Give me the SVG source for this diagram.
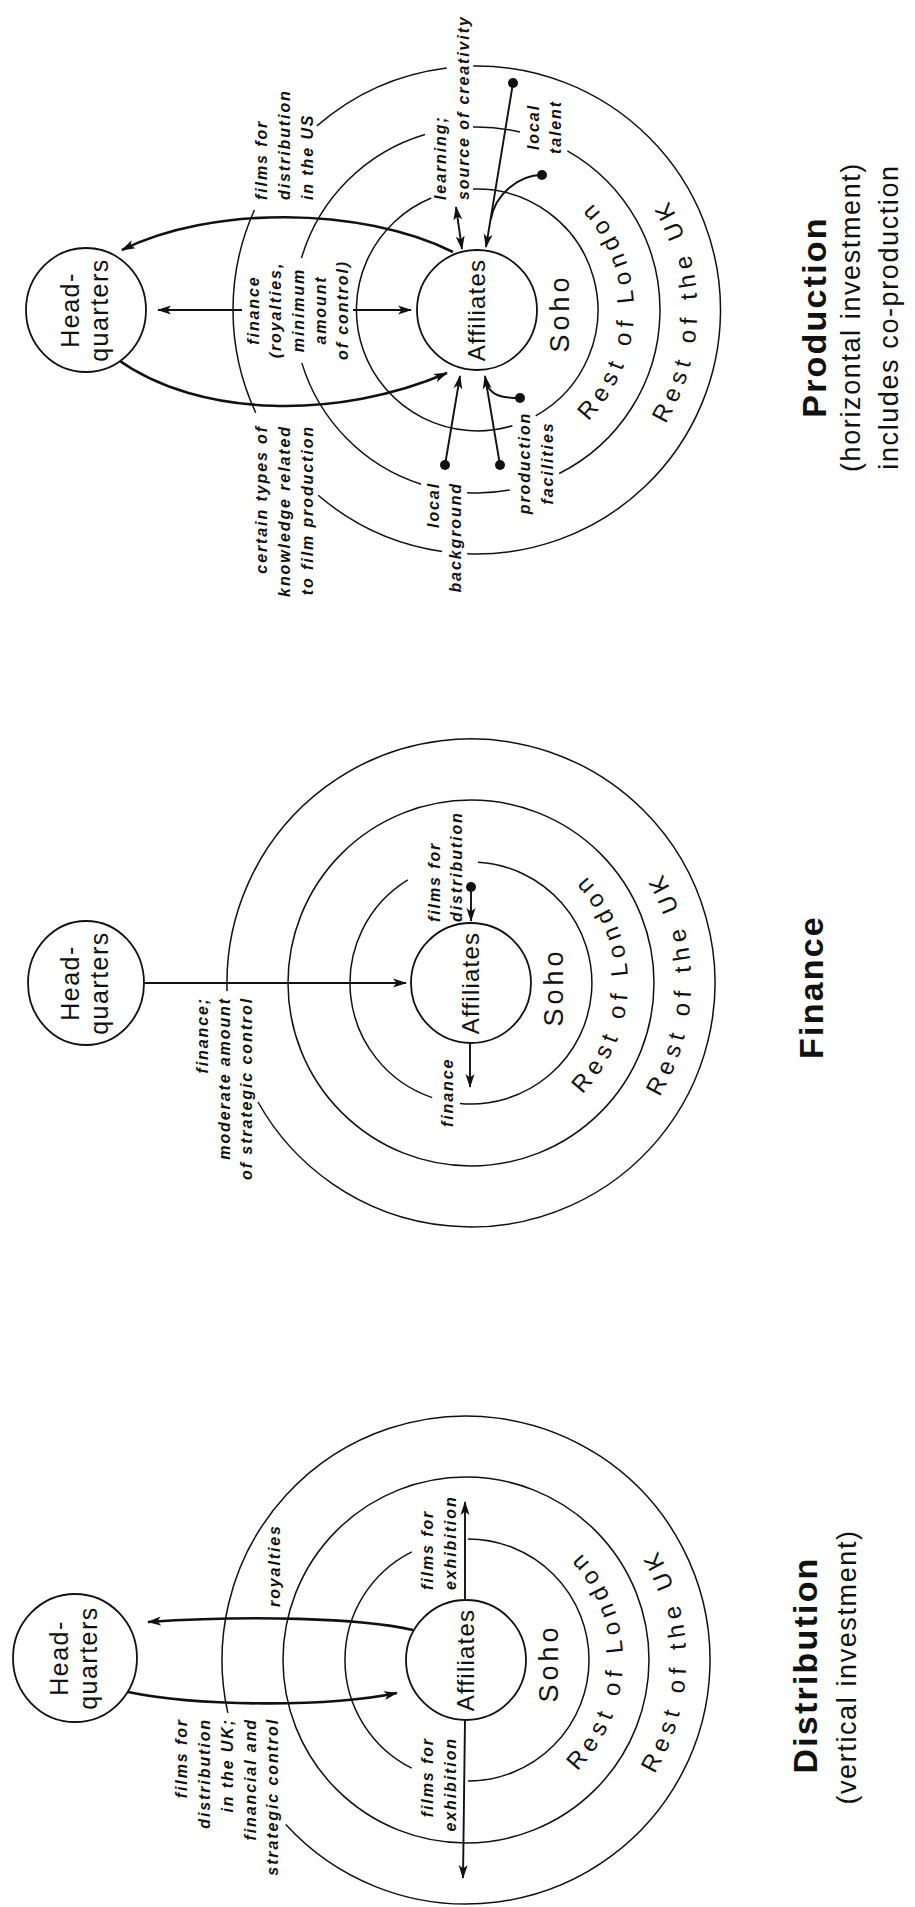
<svg xmlns="http://www.w3.org/2000/svg" width="915" height="1907" viewBox="0 0 915 1907">
<defs>
  <marker id="ah" viewBox="0 0 14 10" refX="13" refY="5" markerWidth="14" markerHeight="10" markerUnits="userSpaceOnUse" orient="auto-start-reverse">
    <path d="M0,0.5 L14,5 L0,9.5 L3.5,5 Z" fill="#111"/>
  </marker>
  <path id="pLon" d="M1442.4,504.3 A157,157 0 0 0 1751.6,504.3"/>
  <path id="pUK" d="M1380.3,515.2 A220,220 0 0 0 1813.7,515.2"/>
  <path id="fLon" d="M769.4,498.3 A157,157 0 0 0 1078.6,498.3"/>
  <path id="fUK" d="M707.3,509.2 A220,220 0 0 0 1140.7,509.2"/>
  <path id="dLon" d="M92.4,493.3 A157,157 0 0 0 401.6,493.3"/>
  <path id="dUK" d="M30.3,504.2 A220,220 0 0 0 463.7,504.2"/>
</defs>
<style>
  text { font-family: "Liberation Sans", Arial, sans-serif; fill: #111; }
  .ring { fill: none; stroke: #111; stroke-width: 1.5; }
  .node { fill: #fff; stroke: #111; stroke-width: 1.8; }
  .con { fill: none; stroke: #111; stroke-width: 1.9; }
  .thick { stroke-width: 2.6; }
  .dot { fill: #111; }
  .lbl { font-size: 16px; font-weight: bold; font-style: italic; letter-spacing: 1.9px; }
  .mid { text-anchor: middle; }
  .end { text-anchor: end; }
  .nt { font-size: 25px; letter-spacing: 1.5px; text-anchor: middle; }
  .aff { font-size: 24px; letter-spacing: 1.2px; text-anchor: middle; }
  .zone { font-size: 24px; letter-spacing: 6px; text-anchor: middle; }
  .soho { font-size: 27px; letter-spacing: 4px; text-anchor: middle; }
  .title { font-size: 34px; font-weight: bold; letter-spacing: 2.2px; text-anchor: middle; }
  .sub { font-size: 27px; letter-spacing: 1.6px; text-anchor: middle; }
</style>
<rect x="0" y="0" width="915" height="1907" fill="#fff"/>
<g transform="translate(0,1907) rotate(-90)">

  <!-- ===== Zones (rings) ===== -->
  <g id="zones-production">
    <path class="ring" d="M1355.5,442.2 A244,244 0 0 1 1411.7,318.2 M1494.3,255.7 A244,244 0 0 1 1697,254.4 M1781.1,316.9 A244,244 0 0 1 1839.1,446.8 M1841,473.2 A244,244 0 1 1 1353.2,467.2"/>
    <path class="ring" d="M1416.9,509.7 A183,183 0 0 1 1414.3,467.1 M1422.8,421.1 A183,183 0 0 1 1544.1,301.8 M1649,301.5 A183,183 0 0 1 1772.5,425 M1780,473 A183,183 0 0 1 1774.9,520 M1756.1,567.4 A183,183 0 0 1 1433.5,559.2"/>
    <path class="ring" d="M1717.9,473 A121,121 0 0 1 1491.2,535.7 M1481.3,512.4 A121,121 0 0 1 1709,431.3"/>
    <text class="soho" x="1594" y="569">Soho</text>
    <text class="zone"><textPath href="#pLon" startOffset="50%">Rest of London</textPath></text>
    <text class="zone"><textPath href="#pUK" startOffset="50%">Rest of the UK</textPath></text>
  </g>
  <g id="zones-finance">
    <path class="ring" d="M915.9,227.1 A244,244 0 1 1 805,258"/>
    <circle class="ring" cx="924" cy="471" r="183"/>
    <path class="ring" d="M1044.8,478 A121,121 0 1 1 803.5,460 M809.4,432.2 A121,121 0 0 1 1027.2,407.8"/>
    <text class="soho" x="920" y="563">Soho</text>
    <text class="zone"><textPath href="#fLon" startOffset="50%">Rest of London</textPath></text>
    <text class="zone"><textPath href="#fUK" startOffset="50%">Rest of the UK</textPath></text>
  </g>
  <g id="zones-distribution">
    <path class="ring" d="M194.2,227.8 A244,244 0 1 1 82.5,285.8"/>
    <circle class="ring" cx="247" cy="466" r="183"/>
    <path class="ring" d="M368,467.9 A121,121 0 0 1 126,468 M138.8,411.8 A121,121 0 0 1 355.2,411.8"/>
    <text class="soho" x="244" y="558">Soho</text>
    <text class="zone"><textPath href="#dLon" startOffset="50%">Rest of London</textPath></text>
    <text class="zone"><textPath href="#dUK" startOffset="50%">Rest of the UK</textPath></text>
  </g>

  <!-- ===== Connectors ===== -->
  <g id="connectors">
    <!-- production -->
    <path class="con" d="M1597,242 L1597,158" marker-end="url(#ah)"/>
    <path class="con" d="M1597,353 L1597,411" marker-end="url(#ah)"/>
    <path class="con thick" d="M1655,453 C1701,360 1701,210 1657,122" marker-end="url(#ah)"/>
    <path class="con thick" d="M1548,117 C1488,200 1488,340 1534,447" marker-end="url(#ah)"/>
    <path class="con" d="M1700,456 L1658,462" marker-start="url(#ah)" marker-end="url(#ah)"/>
    <path class="con" d="M1824,513 L1660,486" marker-end="url(#ah)"/>
    <path class="con" d="M1732,542 C1732,518 1712,495 1688,491"/>
    <path class="con" d="M1442,445 L1531,460" marker-end="url(#ah)"/>
    <path class="con" d="M1442,500 L1531,485" marker-end="url(#ah)"/>
    <path class="con" d="M1509,520 C1509,500 1512,492 1522,487"/>
    <circle class="dot" cx="1824" cy="513" r="5"/>
    <circle class="dot" cx="1732" cy="542" r="5"/>
    <circle class="dot" cx="1442" cy="445" r="5"/>
    <circle class="dot" cx="1442" cy="500" r="5"/>
    <circle class="dot" cx="1509" cy="520" r="5"/>
    <!-- finance -->
    <path class="con" d="M924,144 L924,406" marker-end="url(#ah)"/>
    <path class="con" d="M1020,471 L986,471" marker-end="url(#ah)"/>
    <circle class="dot" cx="1020" cy="471" r="5"/>
    <path class="con" d="M864,470 L820,470" marker-end="url(#ah)"/>
    <!-- distribution -->
    <path class="con" d="M307,465 L405,465" marker-end="url(#ah)"/>
    <path class="con" d="M187,465 L29,463" marker-end="url(#ah)"/>
    <path class="con thick" d="M277,413 C289,360 292,250 285,148" marker-end="url(#ah)"/>
    <path class="con thick" d="M215,128 C200,200 200,330 214,397" marker-end="url(#ah)"/>
  </g>

  <!-- ===== Nodes ===== -->
  <g id="prod-hq">
    <ellipse class="node" cx="1597" cy="86" rx="62" ry="60"/>
    <text class="nt"><tspan x="1597" y="79">Head-</tspan><tspan x="1597" y="108">quarters</tspan></text>
  </g>
  <g id="prod-affiliates">
    <circle class="node" cx="1597" cy="477" r="60"/>
    <text class="aff" x="1597" y="485">Affiliates</text>
  </g>
  <g id="fin-hq">
    <ellipse class="node" cx="924" cy="86" rx="62" ry="58"/>
    <text class="nt"><tspan x="924" y="79">Head-</tspan><tspan x="924" y="108">quarters</tspan></text>
  </g>
  <g id="fin-affiliates">
    <circle class="node" cx="924" cy="471" r="60"/>
    <text class="aff" x="924" y="479">Affiliates</text>
  </g>
  <g id="dist-hq">
    <ellipse class="node" cx="249" cy="75" rx="64" ry="62"/>
    <text class="nt"><tspan x="249" y="68">Head-</tspan><tspan x="249" y="97">quarters</tspan></text>
  </g>
  <g id="dist-affiliates">
    <circle class="node" cx="247" cy="466" r="60"/>
    <text class="aff" x="247" y="474">Affiliates</text>
  </g>

  <!-- ===== Labels ===== -->
  <g id="labels-production">
    <text class="lbl"><tspan x="1707" y="267">films for</tspan><tspan x="1707" y="290">distribution</tspan><tspan x="1707" y="313">in the US</tspan></text>
    <text class="lbl mid"><tspan x="1597" y="259">finance</tspan><tspan x="1597" y="281">(royalties,</tspan><tspan x="1597" y="304">minimum</tspan><tspan x="1597" y="326">amount</tspan><tspan x="1597" y="348">of control)</tspan></text>
    <text class="lbl end"><tspan x="1482" y="267">certain types of</tspan><tspan x="1482" y="290">knowledge related</tspan><tspan x="1482" y="313">to film production</tspan></text>
    <text class="lbl"><tspan x="1707" y="446">learning;</tspan><tspan x="1707" y="469">source of creativity</tspan></text>
    <text class="lbl mid"><tspan x="1780" y="539">local</tspan><tspan x="1780" y="561">talent</tspan></text>
    <text class="lbl end"><tspan x="1425" y="439">local</tspan><tspan x="1425" y="461">background</tspan></text>
    <text class="lbl mid"><tspan x="1444" y="530">production</tspan><tspan x="1444" y="553">facilities</tspan></text>
    <text class="title" x="1590" y="826">Production</text>
    <text class="sub" x="1590" y="860">(horizontal investment)</text>
    <text class="sub" x="1590" y="898">includes co-production</text>
  </g>
  <g id="labels-finance">
    <text class="lbl"><tspan x="985" y="440">films for</tspan><tspan x="985" y="462">distribution</tspan></text>
    <text class="lbl" x="780" y="453">finance</text>
    <text class="lbl end"><tspan x="910" y="208">finance;</tspan><tspan x="910" y="230">moderate amount</tspan><tspan x="910" y="252">of strategic control</tspan></text>
    <text class="title" x="920" y="823">Finance</text>
  </g>
  <g id="labels-distribution">
    <text class="lbl" x="300" y="280">royalties</text>
    <text class="lbl end"><tspan x="189" y="187">films for</tspan><tspan x="189" y="210">distribution</tspan><tspan x="189" y="233">in the UK;</tspan><tspan x="189" y="256">financial and</tspan><tspan x="189" y="278">strategic control</tspan></text>
    <text class="lbl"><tspan x="317" y="433">films for</tspan><tspan x="317" y="456">exhibition</tspan></text>
    <text class="lbl end"><tspan x="170" y="433">films for</tspan><tspan x="170" y="456">exhibition</tspan></text>
    <text class="title" x="242" y="817">Distribution</text>
    <text class="sub" x="240" y="856">(vertical investment)</text>
  </g>
</g>
</svg>
